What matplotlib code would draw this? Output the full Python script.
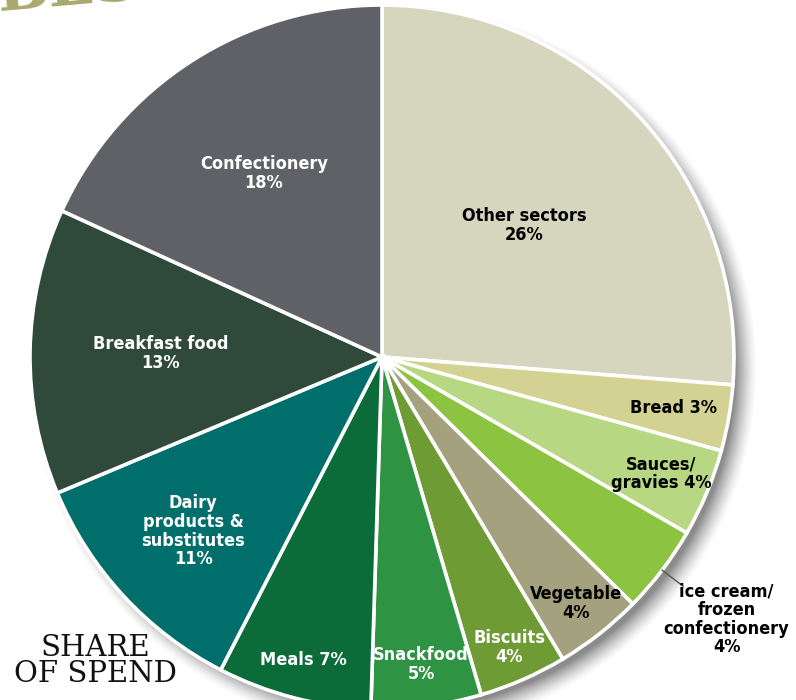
import numpy as np
import matplotlib
matplotlib.use("Agg")
import matplotlib.pyplot as plt

# Share of spend by sector (%), clockwise from 12 o'clock
sectors = ["Other sectors", "Bread", "Sauces/\ngravies", "ice cream/\nfrozen\nconfectionery",
           "Vegetable", "Biscuits", "Snackfood", "Meals",
           "Dairy\nproducts &\nsubstitutes", "Breakfast food", "Confectionery"]
shares = [26, 3, 4, 4, 4, 4, 5, 7, 11, 13, 18]

colors = ["#d6d6bf", "#d4d293", "#b8d782", "#8cc441", "#a4a27e", "#6f9b35",
          "#2e9443", "#0b6c39", "#006f6b", "#2f4a3b", "#5f6166"]
text_colors = ["black", "black", "black", "black", "black", "white",
               "white", "white", "white", "white", "white"]
# label distance (fraction of radius) and whether the % sits on the same line
label_frac = [0.55, 0.84, 0.86, 1.23, 0.89, 0.90, 0.88, 0.89, 0.73, 0.63, 0.62]
same_line = [False, True, True, False, False, False, False, True, False, False, False]

W, H = 796, 700
fig = plt.figure(figsize=(W / 100, H / 100), dpi=100)
ax = fig.add_axes([0, 0, 1, 1])

cx, cy, R = 382, H - 357, 352

# soft drop shadow to the lower right
yy, xx = np.mgrid[0:H, 0:W]
d = np.hypot(xx - (cx + 11), (H - yy) - (cy - 11))
a = np.clip((R + 12 - d) / 22.0, 0, 1) ** 1.4 * 0.7
shadow = np.zeros((H, W, 4))
shadow[..., :3] = 0.35
shadow[..., 3] = a
ax.imshow(shadow, extent=(0, W, 0, H), origin="upper", zorder=0, interpolation="bilinear")

wedges, _ = ax.pie(shares, colors=colors, startangle=90, counterclock=False,
                   center=(cx, cy), radius=R, frame=True,
                   wedgeprops=dict(edgecolor="white", linewidth=2.6))
for w in wedges:
    w.set_zorder(2)

for w, name, val, frac, tc, one in zip(wedges, sectors, shares, label_frac, text_colors, same_line):
    mid = np.deg2rad((w.theta1 + w.theta2) / 2)
    x = cx + frac * R * np.cos(mid)
    y = cy + frac * R * np.sin(mid)
    txt = f"{name} {val}%" if one else f"{name}\n{val}%"
    ax.text(x, y, txt, ha="center", va="center", color=tc, fontsize=13,
            fontweight="bold", family="DejaVu Sans", fontstretch="condensed",
            linespacing=1.05, zorder=4)
    if frac > 1:
        ax.plot([cx + 1.0 * R * np.cos(mid), cx + 1.075 * R * np.cos(mid)],
                [cy + 1.0 * R * np.sin(mid), cy + 1.075 * R * np.sin(mid)],
                color="#555555", lw=1.0, zorder=3)

ax.text(95, H - 661, "SHARE\nOF SPEND", ha="center", va="center", fontsize=21,
        family="DejaVu Serif", color="#111111", linespacing=0.95,
        multialignment="center", zorder=4)

# heading text running off the top edge
ax.text(-6, H - 11, "BEST", ha="left", va="baseline", fontsize=44, fontweight="bold",
        family="DejaVu Serif", color="#a8a86f", rotation=5, zorder=4)

ax.set_xlim(0, W)
ax.set_ylim(0, H)
ax.set_aspect("equal")
ax.axis("off")
fig.savefig("out.png", dpi=100, facecolor="white")
